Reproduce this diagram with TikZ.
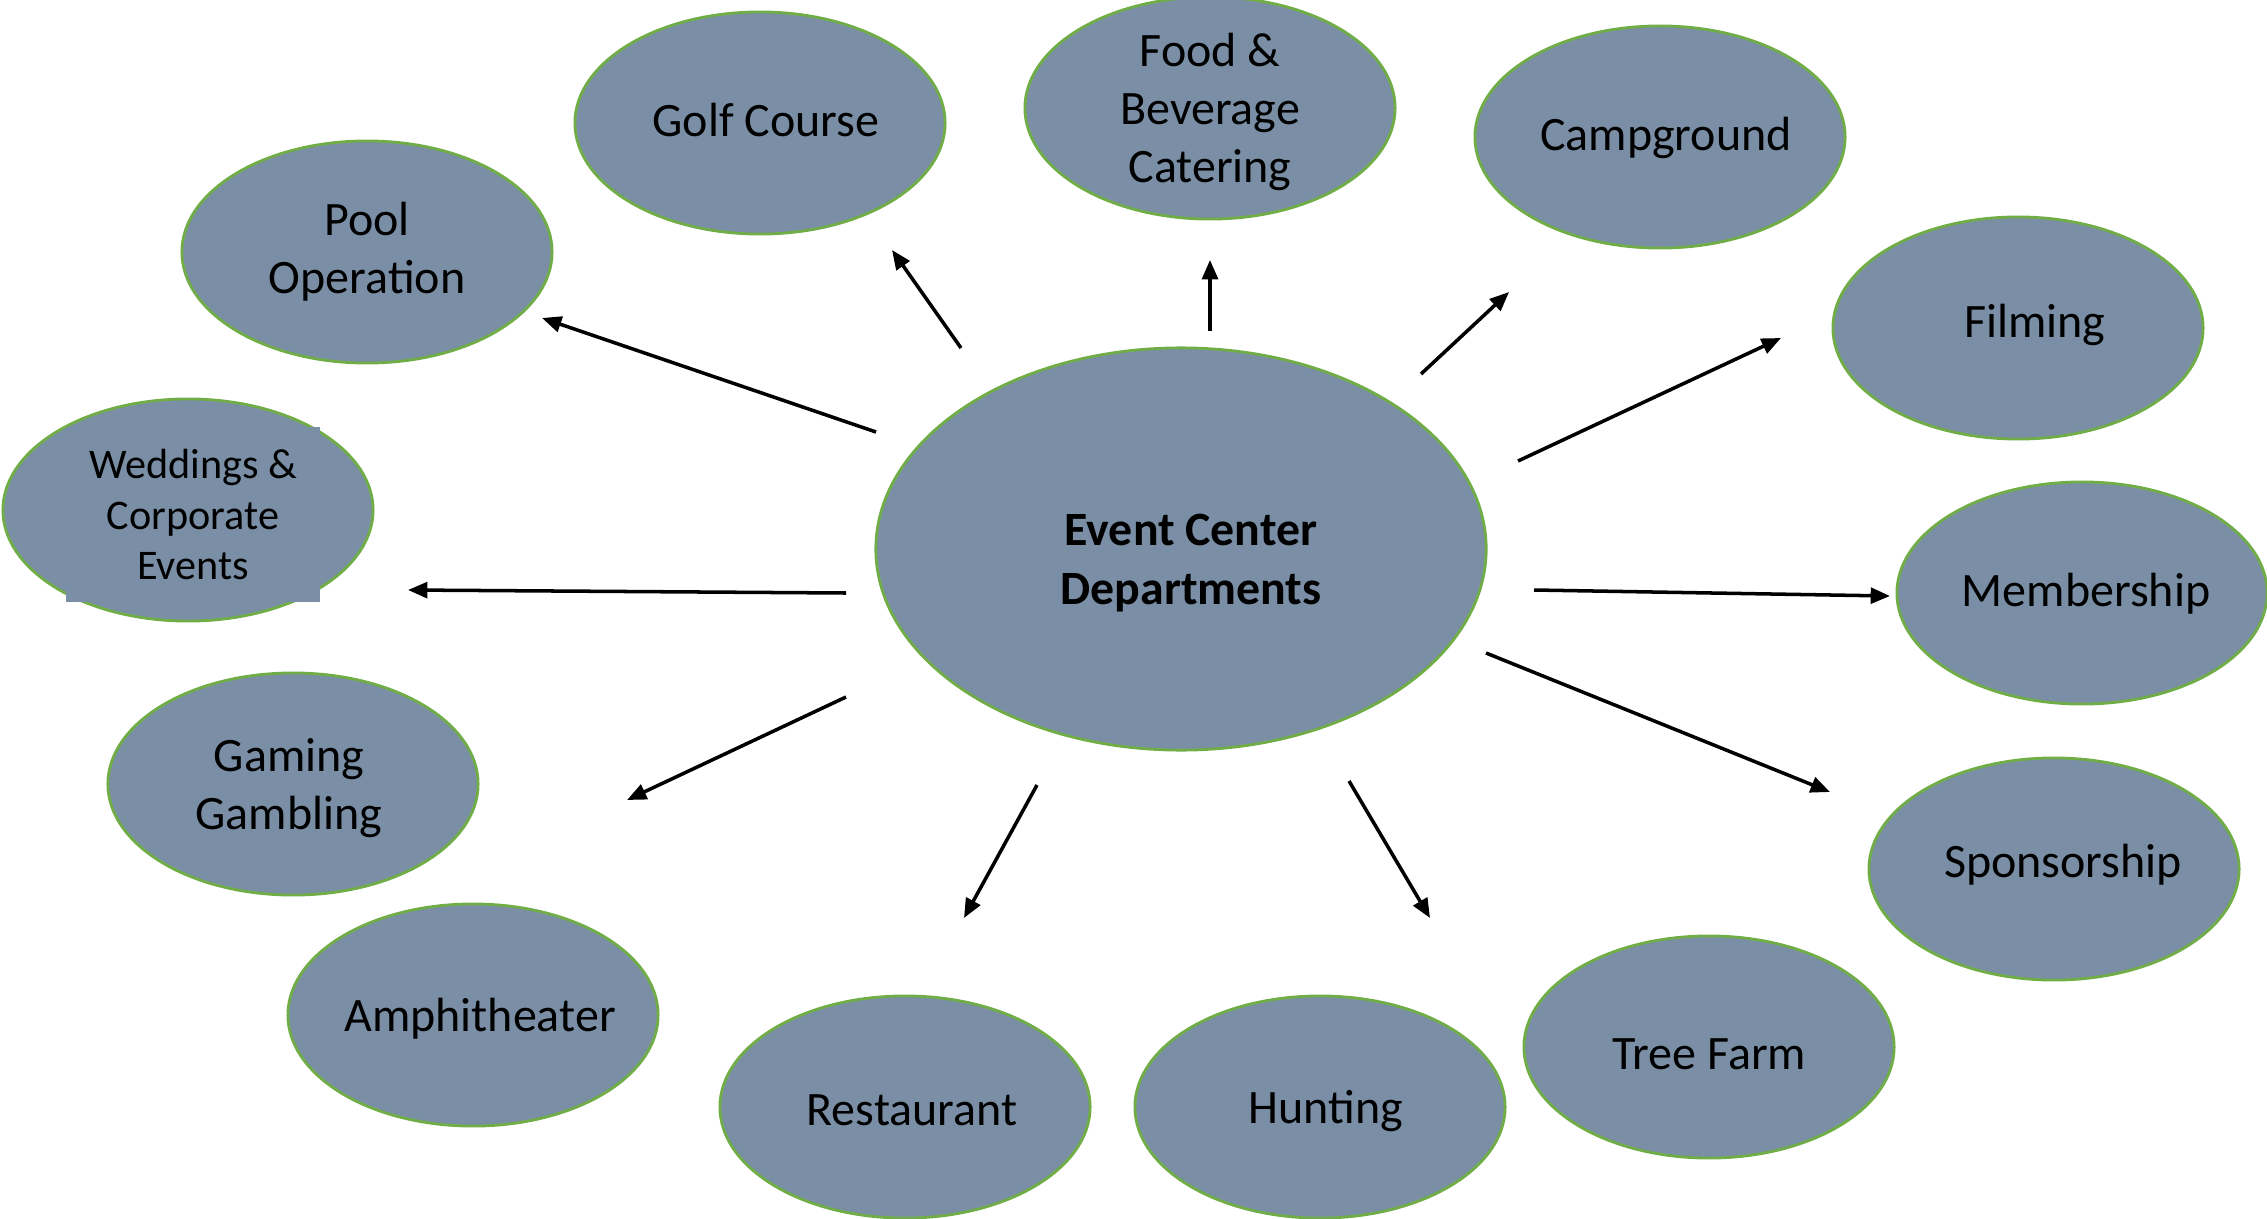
\documentclass[tikz,border=0pt]{standalone}
\usepackage{fontspec}
\setmainfont{Carlito}
\usetikzlibrary{shapes.geometric,arrows.meta}
\definecolor{deptfill}{RGB}{122,143,166}
\definecolor{deptline}{RGB}{112,173,71}
\begin{document}
\begin{tikzpicture}[x=0.01cm, y=-0.01cm,
    dept/.style={ellipse, fill=deptfill, draw=deptline, line width=0.8pt, inner sep=0pt,
        minimum width=3.7cm, minimum height=2.22cm},
    depttext/.style={inner sep=0pt, align=center, font=\fontsize{13.65pt}{16.4pt}\selectfont},
    hub/.style={dept, minimum width=6.1cm, minimum height=4.02cm},
    link/.style={-{Triangle[length=5.5pt,width=4.5pt]}, line width=1pt}]
                \useasboundingbox (0,0) rectangle (2267,1218);
                \node[hub] (hub) at (1181,549) {};
                \node[depttext, font=\fontsize{13.6pt}{16.6pt}\selectfont\bfseries]
                    (hubtext) at (1191,563) {Event Center\\Departments};
                \foreach \name/\x/\y/\dx/\dy/\txt in {pool/367/252/0/0/{Pool\\Operation},
                        golf/760/123/6/-3/{Golf Course}, food/1210/108/0/4/{Food \&\\Beverage\\Catering},
                        camp/1660/137/6/1/Campground, film/2018/328/17/-3/Filming,
                        memb/2082/593/4/1/Membership, gaming/293/784/-4/4/{Gaming\\Gambling},
                        spons/2054/869/9/-4/Sponsorship, amphi/473/1015/7/4/Amphitheater,
                        rest/905/1107/7/3/Restaurant, hunt/1320/1107/6/4/Hunting,
                        tree/1709/1047/0/7/{Tree Farm}} {
                    \node[dept] (\name) at (\x,\y) {};
                    \node[depttext] (\name-t) at (\x+\dx,\y+\dy) {\txt};
                }
                % weddings: text box sticks out of its ellipse
                \node[dept] (wed) at (188,510) {};
                \node[depttext, fill=deptfill, minimum width=2.54cm, minimum height=1.75cm,
                    font=\fontsize{12pt}{14.5pt}\selectfont]
                    (wed-t) at (193,514.5) {Weddings \&\\Corporate\\Events};
                % arrow ends, kept apart from the ellipses
                \foreach \name/\xa/\ya/\xb/\yb in {pool/876/432/542/318, golf/961/348/892/250,
                        food/1210/331/1210/260, camp/1421/374/1509/292, film/1518/461/1781/338,
                        memb/1534/590/1890/596, spons/1486/653/1830/792, hunt/1349/781/1430/918,
                        rest/1037/785/964/918, gaming/846/697/627/800, wed/846/593/408/590} {
                    \coordinate (\name-a) at (\xa,\ya);
                    \coordinate (\name-b) at (\xb,\yb);
                    \draw[link] (\name-a) -- (\name-b);
                }
            \end{tikzpicture}
\end{document}
